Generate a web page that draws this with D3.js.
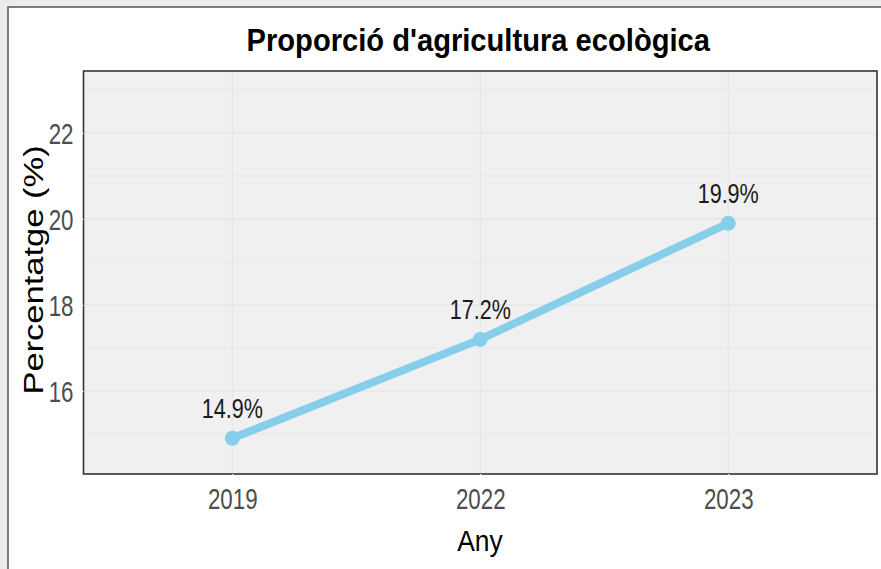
<!DOCTYPE html>
<html>
<head>
<meta charset="utf-8">
<script src="https://cdn.jsdelivr.net/npm/d3@7"></script>
<style>
  html, body { margin: 0; padding: 0; background: #ececec; }
  svg { display: block; font-family: "Liberation Sans", Arial, sans-serif; }
</style>
</head>
<body>
<div id="chart"></div>
<script>
// data
const years = ["2019", "2022", "2023"];
const values = [14.9, 17.2, 19.9];
const labels = ["14.9%", "17.2%", "19.9%"];
const yTicks = [16, 18, 20, 22];
const yMinor = [15, 17, 19, 21, 23];

const width = 881, height = 569;
const panel = { left: 83.5, right: 877, top: 71, bottom: 474 };
const squeeze = 0.77;

const svg = d3.select("#chart").append("svg")
    .attr("width", width).attr("height", height);

// outer frame
svg.append("rect").attr("x", 0).attr("y", 0).attr("width", width).attr("height", height)
    .attr("fill", "#ececec");
svg.append("rect").attr("x", 8).attr("y", 7).attr("width", width + 10).attr("height", height + 10)
    .attr("fill", "#ffffff").attr("stroke", "#555").attr("stroke-width", 1.5);

const x = d3.scalePoint().domain(years).range([panel.left, panel.right]).padding(0.6);
const y = d3.scaleLinear().domain([14.07, 23.44]).range([panel.bottom, panel.top]);

// panel background
svg.append("rect")
    .attr("x", panel.left).attr("y", panel.top)
    .attr("width", panel.right - panel.left).attr("height", panel.bottom - panel.top)
    .attr("fill", "#f0f0f0");

// grid
const grid = svg.append("g");
grid.selectAll("line.minor").data(yMinor).enter().append("line")
    .attr("x1", panel.left).attr("x2", panel.right)
    .attr("y1", d => y(d)).attr("y2", d => y(d))
    .attr("stroke", "#e7e7e7").attr("stroke-width", 1);
grid.selectAll("line.major").data(yTicks).enter().append("line")
    .attr("x1", panel.left).attr("x2", panel.right)
    .attr("y1", d => y(d)).attr("y2", d => y(d))
    .attr("stroke", "#e4e4e4").attr("stroke-width", 1.2);
grid.selectAll("line.vert").data(years).enter().append("line")
    .attr("x1", d => x(d)).attr("x2", d => x(d))
    .attr("y1", panel.top).attr("y2", panel.bottom)
    .attr("stroke", "#e4e4e4").attr("stroke-width", 1.2);

// panel border
svg.append("rect")
    .attr("x", panel.left).attr("y", panel.top)
    .attr("width", panel.right - panel.left).attr("height", panel.bottom - panel.top)
    .attr("fill", "none").attr("stroke", "#333").attr("stroke-width", 1.6);

// axes
const yAxis = svg.append("g")
    .attr("transform", "translate(" + panel.left + ",0)")
    .call(d3.axisLeft(y).tickValues(yTicks).tickSize(4).tickPadding(13));
const xAxis = svg.append("g")
    .attr("transform", "translate(0," + panel.bottom + ")")
    .call(d3.axisBottom(x).tickSize(4).tickPadding(9));
[yAxis, xAxis].forEach(function (g) {
    g.select(".domain").remove();
    g.selectAll(".tick line").attr("stroke", "#ffffff").attr("stroke-width", 1.2);
    g.selectAll(".tick text")
        .attr("fill", "#4d4d4d")
        .style("font-size", "29px")
        .attr("transform", "scale(" + squeeze + ",1)");
});
yAxis.selectAll(".tick text").attr("x", -10 / squeeze).attr("dy", "0.36em");
xAxis.selectAll(".tick text").attr("y", 14).attr("dy", "0.72em");

// line and points
const pts = years.map((d, i) => [x(d), y(values[i])]);
svg.append("path")
    .attr("d", d3.line()(pts))
    .attr("fill", "none").attr("stroke", "#87ceeb").attr("stroke-width", 8);
svg.append("g").selectAll("circle").data(years).enter().append("circle")
    .attr("cx", d => x(d))
    .attr("cy", (d, i) => y(values[i]))
    .attr("r", 7.5)
    .attr("fill", "#87ceeb");

// value labels
svg.append("g").selectAll("text").data(years).enter().append("text")
    .attr("transform", (d, i) => "translate(" + x(d) + "," + (y(values[i]) - 20) + ") scale(" + squeeze + ",1)")
    .attr("text-anchor", "middle")
    .style("font-size", "28px")
    .attr("fill", "#1a1a1a")
    .text((d, i) => labels[i]);

// title
svg.append("text")
    .attr("transform", "translate(" + ((panel.left + panel.right) / 2 - 2) + ",51) scale(0.94,1)")
    .attr("text-anchor", "middle")
    .style("font-size", "31px").style("font-weight", "bold")
    .attr("fill", "#000")
    .text("Proporció d'agricultura ecològica");

// axis titles
svg.append("text")
    .attr("transform", "translate(480,551) scale(0.88,1)")
    .attr("text-anchor", "middle")
    .style("font-size", "30px")
    .attr("fill", "#000")
    .text("Any");
svg.append("text")
    .attr("transform", "translate(43,270) rotate(-90) scale(1,0.8)")
    .attr("text-anchor", "middle")
    .style("font-size", "34.5px")
    .attr("fill", "#000")
    .text("Percentatge (%)");
</script>
</body>
</html>
